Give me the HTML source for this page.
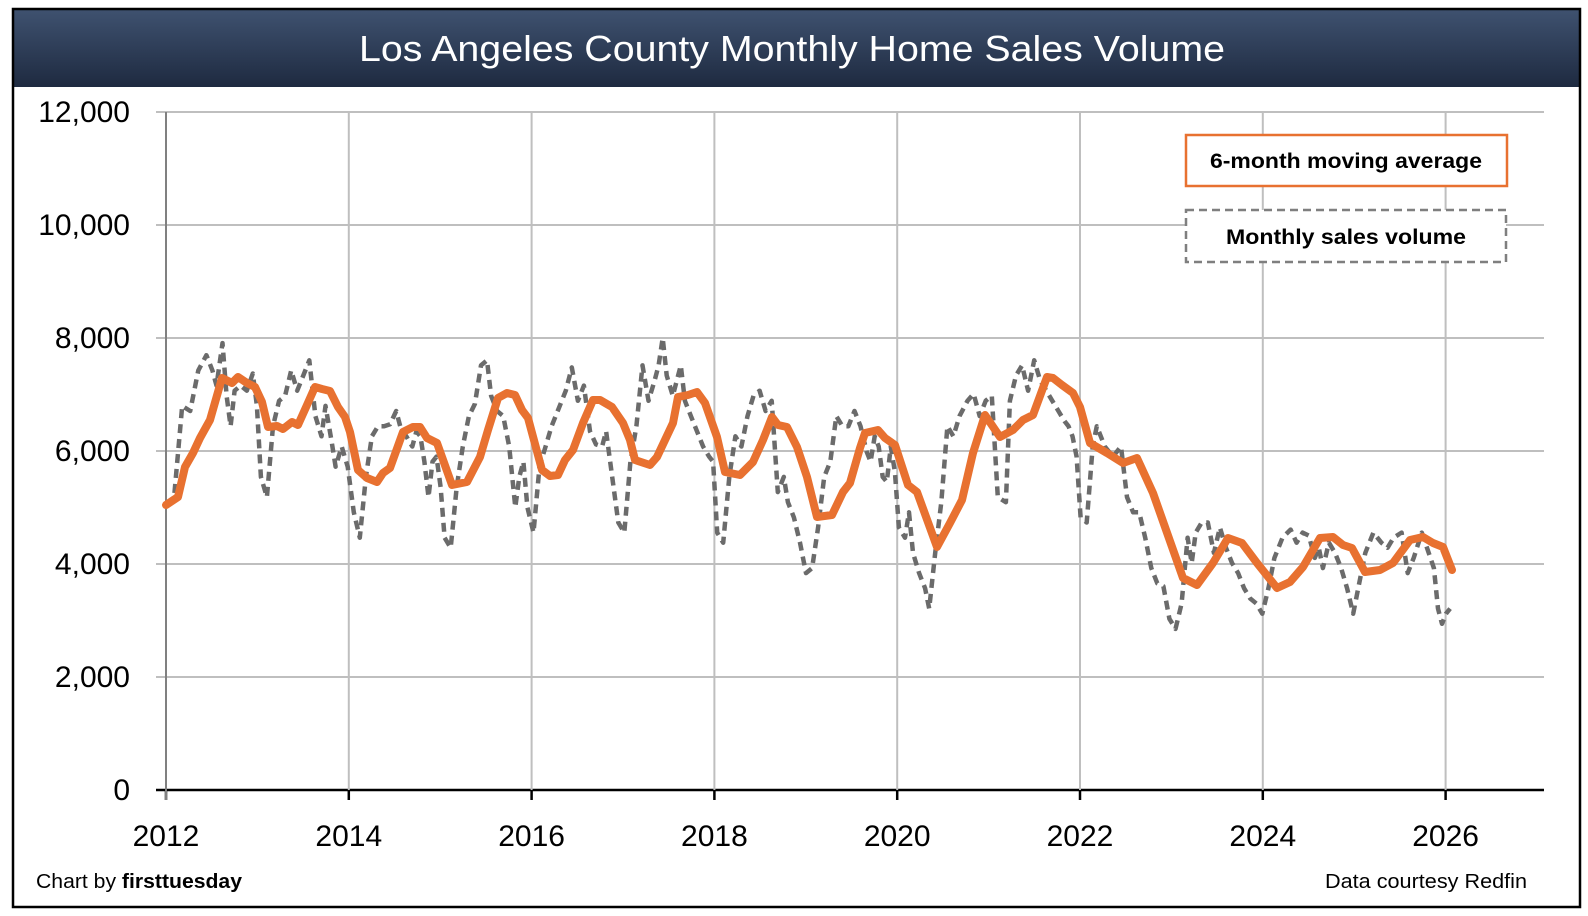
<!DOCTYPE html>
<html><head><meta charset="utf-8"><style>
html,body{margin:0;padding:0;background:#fff;}
svg{display:block;}
text{font-family:"Liberation Sans",sans-serif;}
</style></head><body>
<svg id="s" width="1588" height="916" viewBox="0 0 1588 916" xmlns="http://www.w3.org/2000/svg">
<defs><linearGradient id="tg" x1="0" y1="0" x2="0" y2="1"><stop offset="0" stop-color="#3f5270"/><stop offset="1" stop-color="#1e2a40"/></linearGradient></defs>
<rect x="0" y="0" width="1588" height="916" fill="#fff"/>
<rect x="13" y="9" width="1567" height="78" fill="url(#tg)"/>
<text x="792" y="61" font-size="36" fill="#fff" text-anchor="middle" textLength="866" lengthAdjust="spacingAndGlyphs">Los Angeles County Monthly Home Sales Volume</text>
<g id="grid" stroke="#bfbfbf" stroke-width="2"></g>
<g id="lab" font-size="30" fill="#000"></g>
<path id="dash" fill="none" stroke="#6b6b6b" stroke-width="4.5" stroke-dasharray="9,6" stroke-linejoin="round"/>
<path id="avg" fill="none" stroke="#e87130" stroke-width="8" stroke-linejoin="round" stroke-linecap="round"/>
<rect x="1186" y="135" width="321" height="51" fill="#fff" stroke="#e87130" stroke-width="2.5"/>
<text x="1346" y="168" font-size="21" font-weight="bold" text-anchor="middle" textLength="272" lengthAdjust="spacingAndGlyphs">6-month moving average</text>
<rect x="1186" y="210" width="320" height="52" fill="#fff" stroke="#7f7f7f" stroke-width="2.5" stroke-dasharray="8,5"/>
<text x="1346" y="244" font-size="21" font-weight="bold" text-anchor="middle" textLength="240" lengthAdjust="spacingAndGlyphs">Monthly sales volume</text>
<text x="36" y="888" font-size="20" textLength="206" lengthAdjust="spacingAndGlyphs">Chart by <tspan font-weight="bold">firsttuesday</tspan></text>
<text x="1527" y="888" font-size="20" text-anchor="end" textLength="202" lengthAdjust="spacingAndGlyphs">Data courtesy Redfin</text>
<rect x="13" y="9" width="1567" height="898" fill="none" stroke="#000" stroke-width="2.5"/>
</svg>
<script>
var NS="http://www.w3.org/2000/svg";
function el(p,t,a,txt){var e=document.createElementNS(NS,t);for(var k in a)e.setAttribute(k,a[k]);if(txt)e.textContent=txt;p.appendChild(e);return e;}
var g=document.getElementById('grid'),l=document.getElementById('lab');
var X0=166,YR=91.4,Y0=790,U=(790-112)/12000;
for(var i=0;i<=6;i++){var y=Y0-i*2000*U;
 el(g,'line',{x1:X0-10,x2:1544,y1:y,y2:y,stroke:i==0?'#000':'#bfbfbf','stroke-width':i==0?2.5:2});
 el(l,'text',{x:130,y:y+10,'text-anchor':'end'},(i*2000).toLocaleString('en-US'));}
for(var j=0;j<=7;j++){var x=X0+j*2*YR;
 if(j>0) el(g,'line',{x1:x,x2:x,y1:112,y2:790});
 el(g,'line',{x1:x,x2:x,y1:790,y2:800,stroke:'#000','stroke-width':2.5});
 el(l,'text',{x:x,y:846,'text-anchor':'middle'},String(2012+2*j));}
el(g,'line',{x1:X0,x2:X0,y1:112,y2:800,stroke:'#808080','stroke-width':2});
var d=[164,497,172,490,180,400,188,405,196,365,204,350,210,365,214,380,220,338,224,390,228,420,232,385,238,380,244,385,250,368,254,400,258,470,264,490,270,420,276,395,282,390,288,365,294,385,300,370,306,355,312,410,318,430,322,400,328,435,332,460,338,440,344,460,350,505,356,530,362,470,368,430,374,420,380,420,386,418,392,405,396,420,402,430,408,440,412,425,416,430,420,455,424,490,428,455,432,450,436,480,440,530,446,540,452,480,458,440,464,410,470,398,476,360,482,355,486,390,492,405,498,410,504,440,510,500,514,470,518,455,522,500,528,525,534,460,540,440,546,420,552,405,560,385,566,362,572,395,578,380,584,425,590,438,596,440,600,425,606,470,612,515,618,525,624,455,630,420,636,360,642,395,648,375,652,360,656,333,660,370,666,390,670,375,674,360,678,395,684,410,690,425,696,440,702,450,706,455,710,525,716,535,722,470,728,430,734,440,740,410,746,390,752,385,758,405,764,395,770,485,776,470,780,495,786,510,792,535,798,565,804,560,810,520,816,470,822,455,828,410,834,420,840,420,846,405,852,420,858,445,862,455,866,430,870,440,874,470,878,475,882,440,886,465,890,520,896,530,900,505,904,545,910,565,916,580,920,600,926,545,932,495,938,420,944,430,950,410,958,395,964,388,970,410,976,395,982,390,988,490,996,495,1000,395,1006,370,1012,360,1018,385,1024,355,1030,375,1036,385,1042,395,1048,405,1054,415,1058,420,1062,430,1066,450,1070,510,1076,515,1082,440,1086,420,1094,440,1102,450,1110,440,1116,490,1122,505,1128,505,1134,530,1140,560,1146,575,1152,578,1158,610,1164,620,1170,595,1176,530,1180,555,1184,525,1190,515,1196,515,1202,545,1208,520,1214,540,1220,555,1226,565,1232,580,1238,590,1244,595,1250,605,1256,580,1262,550,1270,530,1278,522,1284,535,1290,525,1296,528,1302,550,1306,540,1310,560,1316,535,1322,545,1328,560,1334,580,1340,605,1346,575,1352,545,1360,525,1368,535,1374,540,1380,530,1388,525,1394,565,1400,550,1408,525,1420,560,1424,600,1428,615,1432,605,1436,600];
var s="";for(var k=0;k<d.length;k+=2){var x=166+(d[k]-164)*1.0095,y=112+(d[k+1]-110)*1.0135;s+=(k?"L":"M")+x.toFixed(1)+","+y.toFixed(1);}
document.getElementById('dash').setAttribute('d',s);
var a=[166,505,178,497,185,467,193,453,200,438,210,420,222,378,232,383,238,377,247,383,255,387,262,402,268,427,277,426,283,429,292,422,298,425,307,405,315,387,322,389,330,391,338,407,345,417,350,432,358,470,367,478,377,482,383,473,390,468,403,432,413,427,420,427,427,438,437,443,452,485,467,482,480,457,488,430,498,398,507,393,515,395,522,410,528,418,542,470,550,476,558,475,565,460,573,450,583,423,593,400,600,400,612,407,623,423,630,440,635,460,650,465,657,457,673,423,678,397,688,395,697,392,705,403,717,437,725,472,740,475,753,462,763,440,772,417,778,425,787,427,797,447,807,477,817,517,832,515,843,492,850,483,860,448,865,433,878,430,885,438,895,445,908,485,917,492,937,547,950,523,962,500,973,453,985,415,1000,437,1013,430,1023,420,1033,415,1047,377,1053,378,1062,385,1073,393,1080,407,1090,443,1107,453,1123,463,1137,458,1153,493,1183,578,1197,585,1213,563,1228,538,1242,543,1257,563,1277,588,1290,582,1303,567,1320,538,1333,537,1343,545,1352,548,1365,572,1380,570,1393,563,1410,540,1423,537,1433,543,1443,547,1452,570];
s="";for(k=0;k<a.length;k+=2){s+=(k?"L":"M")+a[k]+","+a[k+1];}
document.getElementById('avg').setAttribute('d',s);
</script>
</body></html>
